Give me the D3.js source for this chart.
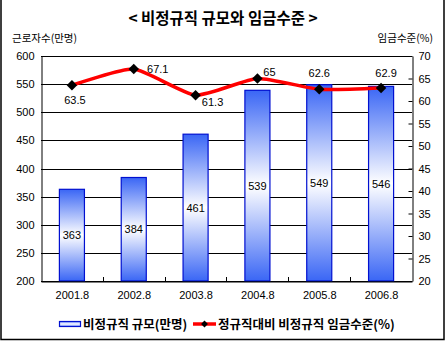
<!DOCTYPE html>
<html><head><meta charset="utf-8">
<script src="https://cdn.jsdelivr.net/npm/d3@7"></script>
<style>
html,body{margin:0;padding:0;background:#fff;}
svg{display:block;font-family:"Noto Sans CJK KR","DejaVu Sans",sans-serif;}
</style></head>
<body><svg id="c" width="445" height="341"></svg>
<script>
const categories = ["2001.8","2002.8","2003.8","2004.8","2005.8","2006.8"];
const workers = [363,384,461,539,549,546];
const wageLevel = [63.5,67.1,61.3,65,62.6,62.9];
const leftTicks = [200,250,300,350,400,450,500,550,600];
const rightTicks = [20,25,30,35,40,45,50,55,60,65,70];
const titleText = "< 비정규직 규모와 임금수준 >";
const leftTitle = "근로자수(만명)";
const rightTitle = "임금수준(%)";
const seriesNames = ["비정규직 규모(만명)","정규직대비 비정규직 임금수준(%)"];

const svg = d3.select("#c");
const L=41, R=412, T=56, B=281;
const x = d3.scaleBand().domain(categories).range([L,R]).paddingInner(0.595).paddingOuter(0.2975);
const xc = d3.scalePoint().domain(categories).range([L,R]).padding(0.5);
const yL = d3.scaleLinear().domain([200,600]).range([B,T]);
const yR = d3.scaleLinear().domain([20,70]).range([B,T]);
const font = "Liberation Sans, Arial, sans-serif";

const defs = svg.append("defs");
const g = defs.append("linearGradient").attr("id","bg").attr("x1",0).attr("x2",0).attr("y1",0).attr("y2",1);
g.append("stop").attr("offset","0%").attr("stop-color","#3a66f5");
g.append("stop").attr("offset","50%").attr("stop-color","#ffffff");
g.append("stop").attr("offset","100%").attr("stop-color","#3a66f5");
const lg = defs.append("linearGradient").attr("id","lg").attr("x1",0).attr("x2",0).attr("y1",0).attr("y2",1);
lg.append("stop").attr("offset","0%").attr("stop-color","#6688ff");
lg.append("stop").attr("offset","50%").attr("stop-color","#ffffff");
lg.append("stop").attr("offset","100%").attr("stop-color","#6688ff");

// border
svg.append("path").attr("d","M1,0 V339.5 H444 V0").attr("fill","none").attr("stroke","#000").attr("stroke-width",1.5);

// title
svg.append("text").attr("x",223).attr("y",24).attr("text-anchor","middle")
  .style("font-size","15.5px").style("font-weight","bold").text(titleText);
svg.append("text").attr("x",12).attr("y",42).style("font-size","10.5px").text(leftTitle);
svg.append("text").attr("x",433).attr("y",42).attr("text-anchor","end").style("font-size","10.5px").text(rightTitle);

// gridlines
svg.append("g").selectAll("line").data(leftTicks).join("line")
  .attr("x1",L).attr("x2",R).attr("y1",d=>Math.round(yL(d))+0.5).attr("y2",d=>Math.round(yL(d))+0.5)
  .attr("stroke","#000").attr("stroke-width",1);

// left axis
const la = svg.append("g").attr("transform",`translate(${L+0.5},0)`)
  .call(d3.axisLeft(yL).tickValues(leftTicks).tickSize(0).tickPadding(7));
la.select(".domain").attr("stroke","#000");
la.selectAll("text").style("font-family",font).style("font-size","11px").attr("fill","#000");

// right axis
const ra = svg.append("g").attr("transform",`translate(${R+0.5},0)`)
  .call(d3.axisRight(yR).tickValues(rightTicks).tickSizeInner(-4).tickSizeOuter(0).tickPadding(6));
ra.select(".domain").attr("stroke","#000");
ra.selectAll("line").attr("stroke","#000");
ra.selectAll("text").style("font-family",font).style("font-size","11px").attr("fill","#000");

// bars
svg.append("g").selectAll("rect").data(workers).join("rect")
  .attr("x",(d,i)=>x(categories[i])).attr("width",x.bandwidth())
  .attr("y",d=>yL(d)).attr("height",d=>B-yL(d))
  .attr("fill","url(#bg)").attr("stroke","#0010d0").attr("stroke-width",1.2);

// bottom axis
const ba = svg.append("g").attr("transform",`translate(0,${B+0.5})`)
  .call(d3.axisBottom(xc).tickSize(0).tickPadding(10));
ba.select(".domain").attr("stroke","#000");
ba.selectAll("text").style("font-family",font).style("font-size","11px").attr("fill","#000");
svg.append("g").selectAll("line").data(categories.slice(1)).join("line")
  .attr("x1",d=>Math.round(x(d)-x.step()*0.2975)+0.5).attr("x2",d=>Math.round(x(d)-x.step()*0.2975)+0.5)
  .attr("y1",B).attr("y2",B-4).attr("stroke","#000");

// bar labels
svg.append("g").selectAll("text").data(workers).join("text")
  .attr("x",(d,i)=>xc(categories[i])).attr("y",d=>(yL(d)+B)/2+4)
  .attr("text-anchor","middle").style("font-family",font).style("font-size","11px").text(d=>d);

// line
const line = d3.line().x((d,i)=>xc(categories[i])).y(d=>yR(d)).curve(d3.curveCardinal.tension(0.45));
svg.append("path").datum(wageLevel).attr("d",line).attr("fill","none").attr("stroke","#ff0000").attr("stroke-width",3.5);
svg.append("g").selectAll("path").data(wageLevel).join("path")
  .attr("d",d3.symbol(d3.symbolDiamond2,70))
  .attr("transform",(d,i)=>`translate(${xc(categories[i])},${yR(d)})`).attr("fill","#000");

// line labels
const off = [[3,15],[24,0],[17,7],[12,-7],[0,-16],[5,-15]];
svg.append("g").selectAll("text").data(wageLevel).join("text")
  .attr("x",(d,i)=>xc(categories[i])+off[i][0]).attr("y",(d,i)=>yR(d)+off[i][1]+4)
  .attr("text-anchor","middle").style("font-family",font).style("font-size","11px").text(d=>d);

// legend
const ly = 324;
svg.append("rect").attr("x",59.5).attr("y",ly-2.5).attr("width",21).attr("height",5)
  .attr("fill","url(#lg)").attr("stroke","#0010d0").attr("stroke-width",1.2);
svg.append("text").attr("x",83).attr("y",ly+5).style("font-size","12.5px").style("font-weight","bold").text(seriesNames[0]);
svg.append("line").attr("x1",193).attr("x2",216).attr("y1",ly).attr("y2",ly).attr("stroke","#ff0000").attr("stroke-width",3.5);
svg.append("path").attr("d",d3.symbol(d3.symbolDiamond2,30)).attr("transform",`translate(204.5,${ly})`).attr("fill","#000");
svg.append("text").attr("x",218).attr("y",ly+5).style("font-size","12.5px").style("font-weight","bold").text(seriesNames[1]);
</script></body></html>
